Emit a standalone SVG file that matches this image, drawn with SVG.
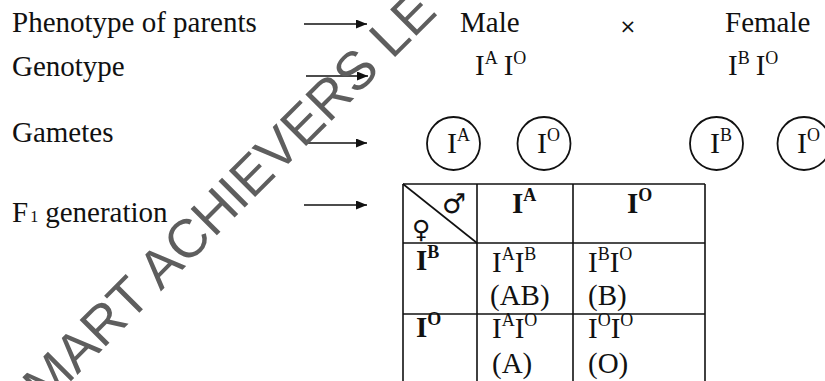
<svg xmlns="http://www.w3.org/2000/svg" width="825" height="381" viewBox="0 0 825 381">
<style>
  .t { font-family: "Liberation Serif", "Times New Roman", serif; font-size: 29px; fill: #111; }
  .b { font-weight: bold; }
  .sup { font-size: 18px; }
  .ln { stroke: #111; stroke-width: 1.6; fill: none; }
  .circ { stroke: #111; stroke-width: 1.8; fill: none; }
  .sym { font-family: "DejaVu Sans", sans-serif; fill: #111; }
  .wm { font-family: "Liberation Sans", Arial, sans-serif; font-size: 54px; fill: #5e5e5e; }
</style>
<defs>
  <marker id="ah" markerUnits="userSpaceOnUse" markerWidth="11" markerHeight="9" refX="11" refY="4.5" orient="auto">
    <path d="M0,0 L11,4.5 L0,9 z" fill="#111"/>
  </marker>
</defs>
<rect width="825" height="381" fill="#fff"/>

<g id="labels">
  <text class="t" x="12" y="32">Phenotype of parents</text>
  <text class="t" x="12" y="76">Genotype</text>
  <text class="t" x="12" y="142">Gametes</text>
  <text class="t" x="12" y="222">F<tspan font-size="16" dx="2">1</tspan><tspan dx="7">generation</tspan></text>
</g>

<g id="parents">
  <text class="t" x="460" y="32">Male</text>
  <text x="628" y="33" text-anchor="middle" style="font-family:'DejaVu Sans',sans-serif;font-size:20px;fill:#111">×</text>
  <text class="t" x="725" y="32">Female</text>
</g>

<g id="genotype">
  <text class="t" x="475" y="75">I<tspan class="sup" dy="-11">A</tspan><tspan dy="11" dx="6">I</tspan><tspan class="sup" dy="-11">O</tspan></text>
  <text class="t" x="728" y="75">I<tspan class="sup" dy="-11">B</tspan><tspan dy="11" dx="6">I</tspan><tspan class="sup" dy="-11">O</tspan></text>
</g>

<g id="gametes">
  <circle class="circ" cx="453.5" cy="143.5" r="26.5"/>
  <text class="t" x="447" y="153" style="font-size:30px">I<tspan class="sup" dy="-12">A</tspan></text>
  <circle class="circ" cx="544" cy="143.5" r="26.5"/>
  <text class="t" x="537" y="153" style="font-size:30px">I<tspan class="sup" dy="-12">O</tspan></text>
  <circle class="circ" cx="716.5" cy="143.5" r="26.5"/>
  <text class="t" x="710" y="153" style="font-size:30px">I<tspan class="sup" dy="-12">B</tspan></text>
  <circle class="circ" cx="804" cy="143.5" r="26.5"/>
  <text class="t" x="797" y="153" style="font-size:30px">I<tspan class="sup" dy="-12">O</tspan></text>
</g>

<g id="punnett">
  <line class="ln" x1="403" y1="184" x2="705" y2="184"/>
  <line class="ln" x1="403" y1="243" x2="705" y2="243"/>
  <line class="ln" x1="403" y1="314" x2="705" y2="314"/>
  <line class="ln" x1="403" y1="184" x2="403" y2="381"/>
  <line class="ln" x1="477" y1="184" x2="477" y2="381"/>
  <line class="ln" x1="573" y1="184" x2="573" y2="381"/>
  <line class="ln" x1="705" y1="184" x2="705" y2="381"/>
  <line class="ln" x1="403" y1="184" x2="477" y2="243"/>
  <text class="sym" x="442" y="213" style="font-size:27px">♂</text>
  <text class="sym" x="412" y="238" style="font-size:25px">♀</text>
  <text class="t b" x="512" y="213">I<tspan class="sup" dy="-12">A</tspan></text>
  <text class="t b" x="627" y="213">I<tspan class="sup" dy="-12">O</tspan></text>
  <text class="t b" x="416" y="270">I<tspan class="sup" dy="-12">B</tspan></text>
  <text class="t" x="492" y="272">I<tspan class="sup" dy="-12">A</tspan><tspan dy="12">I</tspan><tspan class="sup" dy="-12">B</tspan></text>
  <text class="t" x="490" y="305">(AB)</text>
  <text class="t" x="588" y="272">I<tspan class="sup" dy="-12">B</tspan><tspan dy="12">I</tspan><tspan class="sup" dy="-12">O</tspan></text>
  <text class="t" x="588" y="305">(B)</text>
  <text class="t b" x="416" y="337">I<tspan class="sup" dy="-12">O</tspan></text>
  <text class="t" x="492" y="338">I<tspan class="sup" dy="-12">A</tspan><tspan dy="12">I</tspan><tspan class="sup" dy="-12">O</tspan></text>
  <text class="t" x="492" y="373">(A)</text>
  <text class="t" x="588" y="338">I<tspan class="sup" dy="-12">O</tspan><tspan dy="12">I</tspan><tspan class="sup" dy="-12">O</tspan></text>
  <text class="t" x="588" y="373">(O)</text>
</g>

<g id="connectors">
  <line class="ln" x1="304" y1="24" x2="367" y2="24" marker-end="url(#ah)"/>
  <line class="ln" x1="306" y1="76" x2="368" y2="76" marker-end="url(#ah)"/>
  <line class="ln" x1="304" y1="143" x2="367" y2="143" marker-end="url(#ah)"/>
  <line class="ln" x1="304" y1="205" x2="367" y2="205" marker-end="url(#ah)"/>
</g>

<g id="watermark" transform="translate(358,66) rotate(-45)">
  <text class="wm" x="-462" y="20">MART ACHIEVERS LE</text>
</g>
</svg>
